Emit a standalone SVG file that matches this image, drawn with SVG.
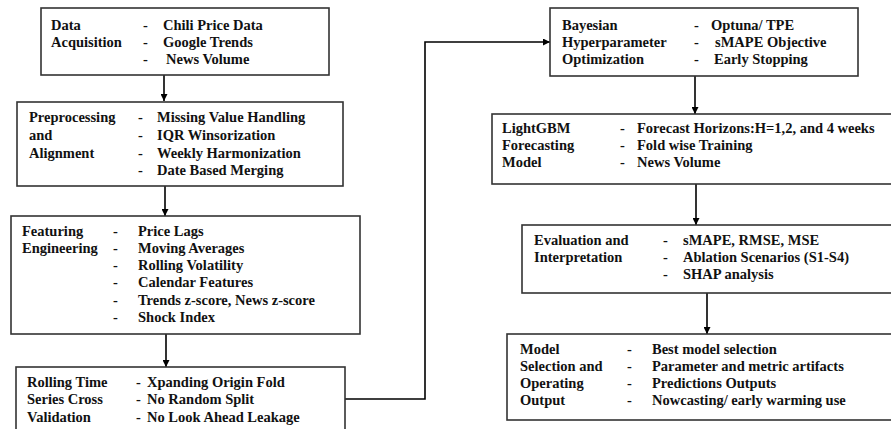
<svg xmlns="http://www.w3.org/2000/svg" width="891" height="429" viewBox="0 0 891 429">
<defs>
<marker id="ah" viewBox="0 0 10 10" refX="10" refY="5" markerWidth="7" markerHeight="7" markerUnits="userSpaceOnUse" orient="auto">
<path d="M0,0 L10,5 L0,10 z" fill="#000"/>
</marker>
<style>
.box{fill:#fff;stroke:#333;stroke-width:1.6}
text{font-family:"Liberation Serif","Times New Roman",serif;font-weight:bold;font-size:14.5px;fill:#111}
.con{fill:none;stroke:#000;stroke-width:1.6}
</style>
</defs>
<rect width="891" height="429" fill="#fff"/>
<g id="connectors">
<line class="con" x1="164" y1="75" x2="164" y2="101" marker-end="url(#ah)"/>
<line class="con" x1="165" y1="186" x2="165" y2="216" marker-end="url(#ah)"/>
<line class="con" x1="166" y1="334" x2="166" y2="367" marker-end="url(#ah)"/>
<polyline class="con" points="345,399 425,399 425,42 550,42" marker-end="url(#ah)"/>
<line class="con" x1="695" y1="76" x2="695" y2="114" marker-end="url(#ah)"/>
<line class="con" x1="696" y1="184" x2="696" y2="225" marker-end="url(#ah)"/>
<line class="con" x1="707" y1="293" x2="707" y2="334" marker-end="url(#ah)"/>
</g>
<g id="n1">
<rect class="box" x="41" y="8" width="288" height="67"/>
<text x="51" y="30">Data</text><text x="51" y="47">Acquisition</text>
<text x="143" y="30">-</text><text x="143" y="47">-</text><text x="143" y="64">-</text>
<text x="163" y="30">Chili Price Data</text><text x="163" y="47">Google Trends</text><text x="166" y="64">News Volume</text>
</g>
<g id="n2">
<rect class="box" x="17" y="102" width="326" height="84"/>
<text x="29" y="122">Preprocessing</text><text x="29" y="140">and</text><text x="29" y="158">Alignment</text>
<text x="138" y="122">-</text><text x="138" y="140">-</text><text x="138" y="158">-</text><text x="138" y="175">-</text>
<text x="157" y="122">Missing Value Handling</text><text x="157" y="140">IQR Winsorization</text><text x="157" y="158">Weekly Harmonization</text><text x="157" y="175">Date Based Merging</text>
</g>
<g id="n3">
<rect class="box" x="11" y="216" width="349" height="118"/>
<text x="22" y="236">Featuring</text><text x="22" y="253">Engineering</text>
<text x="113" y="236">-</text><text x="113" y="253">-</text><text x="113" y="270">-</text><text x="113" y="287">-</text><text x="113" y="305">-</text><text x="113" y="322">-</text>
<text x="138" y="236">Price Lags</text><text x="138" y="253">Moving Averages</text><text x="138" y="270">Rolling Volatility</text><text x="138" y="287">Calendar Features</text><text x="138" y="305">Trends z-score, News z-score</text><text x="138" y="322">Shock Index</text>
</g>
<g id="n4">
<rect class="box" x="16" y="367" width="329" height="75"/>
<text x="27" y="387">Rolling Time</text><text x="27" y="404">Series Cross</text><text x="27" y="422">Validation</text>
<text x="136" y="387">-</text><text x="136" y="404">-</text><text x="136" y="422">-</text>
<text x="147" y="387">Xpanding Origin Fold</text><text x="147" y="404">No Random Split</text><text x="147" y="422">No Look Ahead Leakage</text>
</g>
<g id="n5">
<rect class="box" x="550" y="8" width="308" height="68"/>
<text x="562" y="30">Bayesian</text><text x="562" y="47">Hyperparameter</text><text x="562" y="64">Optimization</text>
<text x="694" y="30">-</text><text x="694" y="47">-</text><text x="694" y="64">-</text>
<text x="711" y="30">Optuna/ TPE</text><text x="715" y="47">sMAPE Objective</text><text x="714" y="64">Early Stopping</text>
</g>
<g id="n6">
<rect class="box" x="492" y="114" width="410" height="70"/>
<text x="502" y="133">LightGBM</text><text x="502" y="150">Forecasting</text><text x="502" y="167">Model</text>
<text x="620" y="133">-</text><text x="620" y="150">-</text><text x="620" y="167">-</text>
<text x="637" y="133">Forecast Horizons:H=1,2, and 4 weeks</text><text x="637" y="150">Fold wise Training</text><text x="637" y="167">News Volume</text>
</g>
<g id="n7">
<rect class="box" x="522" y="225" width="380" height="68"/>
<text x="534" y="245">Evaluation and</text><text x="534" y="262">Interpretation</text>
<text x="663" y="245">-</text><text x="663" y="262">-</text><text x="663" y="279">-</text>
<text x="683" y="245">sMAPE, RMSE, MSE</text><text x="683" y="262">Ablation Scenarios (S1-S4)</text><text x="683" y="279">SHAP analysis</text>
</g>
<g id="n8">
<rect class="box" x="507" y="334" width="395" height="86"/>
<text x="520" y="354">Model</text><text x="520" y="371">Selection and</text><text x="520" y="388">Operating</text><text x="520" y="405">Output</text>
<text x="627" y="354">-</text><text x="627" y="371">-</text><text x="627" y="388">-</text><text x="627" y="405">-</text>
<text x="652" y="354">Best model selection</text><text x="652" y="371">Parameter and metric artifacts</text><text x="652" y="388">Predictions Outputs</text><text x="652" y="405">Nowcasting/ early warming use</text>
</g>
</svg>
